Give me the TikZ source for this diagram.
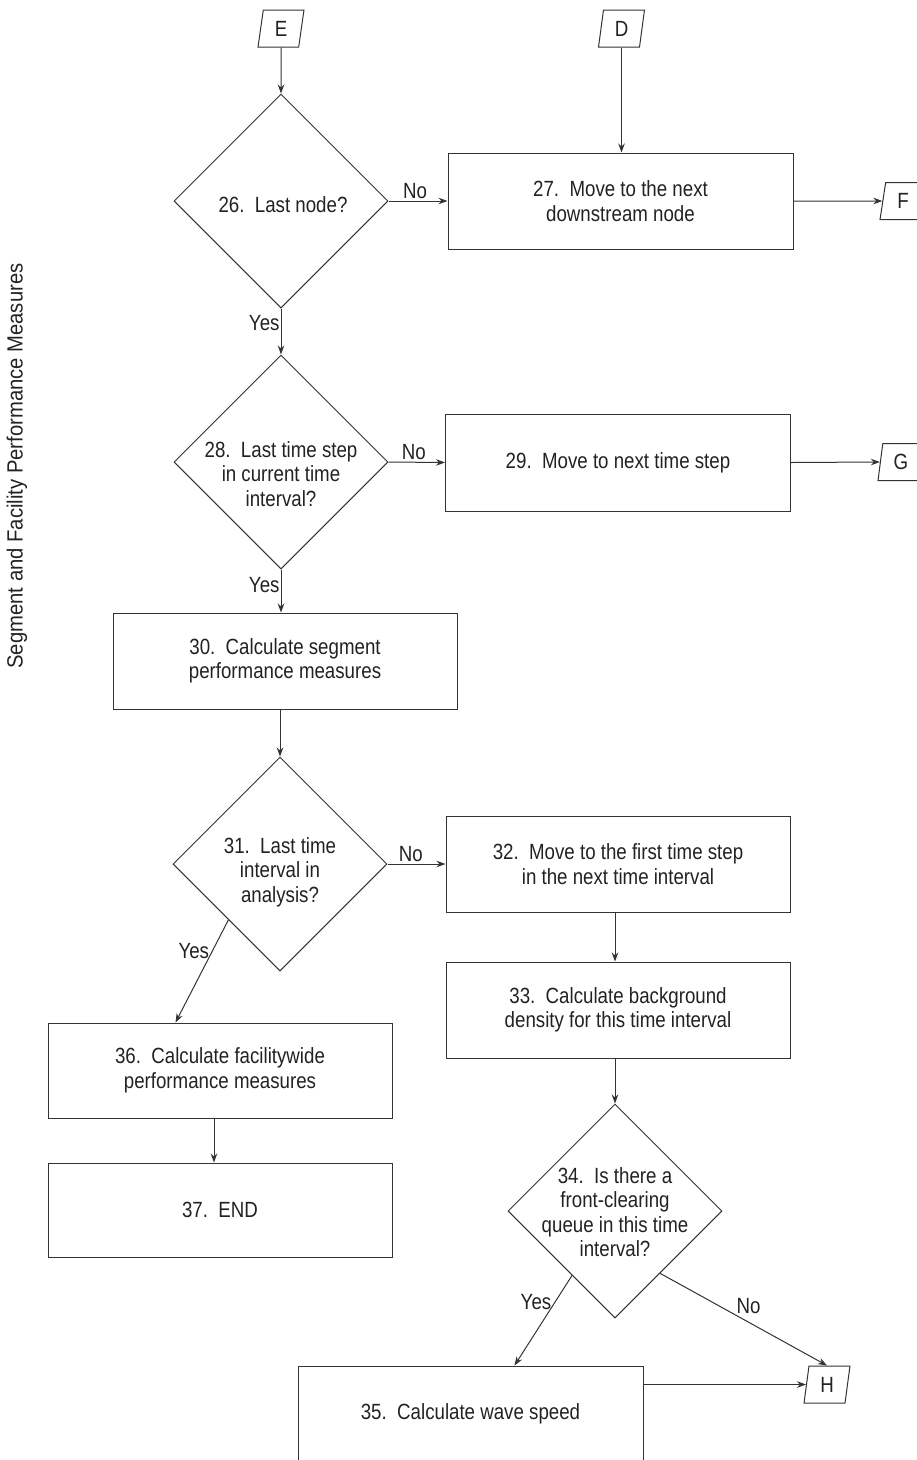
\documentclass[tikz,border=0pt]{standalone}
\usepackage{fontspec}
\setmainfont{Liberation Sans}[FakeStretch=0.85]
\newfontfamily\sidefont{Liberation Sans}[FakeStretch=0.92]
\usetikzlibrary{shapes.geometric,arrows.meta,calc}
\definecolor{ln}{HTML}{333333}
\definecolor{tx}{HTML}{222222}
\begin{document}
\begin{tikzpicture}[x=1pt,y=-1pt,
  every node/.style={text=tx,font=\fontsize{22}{24.5}\selectfont},
  proc/.style={draw=ln,line width=1pt,rectangle,inner sep=0pt,align=center},
  dia/.style={draw=ln,line width=1pt,diamond,aspect=1,inner sep=0pt,minimum width=214pt,minimum height=214pt},
  dtext/.style={align=center,inner sep=0pt},
  conn/.style={draw=ln,line width=1pt,trapezium,trapezium left angle=83,trapezium right angle=97,trapezium stretches=true,minimum width=46pt,minimum height=37pt,inner sep=0pt},
  arr/.style={draw=ln,line width=1pt,-{Stealth[length=9pt,width=6.5pt]}},
  lbl/.style={inner sep=2pt}
]
\useasboundingbox (0,0) rectangle (917,1460);
\clip (0,0) rectangle (917,1460);

% connectors (off-page)
\node[conn] (E) at (281,28.5) {E};
\node[conn] (D) at (621.5,28.5) {D};
\node[conn] (F) at (903,201) {F};
\node[conn] (G) at (901,462) {G};
\node[conn] (H) at (827,1384.5) {H};

% decisions
\node[dia] (d26) at (281,201) {};
\node[dtext] (t26) at (283,205) {26.\ \ Last node?};
\node[dia] (d28) at (281,462) {};
\node[dtext] (t28) at (281,474) {28.\ \ Last time step\\in current time\\interval?};
\node[dia] (d31) at (280,864) {};
\node[dtext] (t31) at (280,872) {31.\ \ Last time\\interval in\\analysis?};
\node[dia] (d34) at (615,1211) {};
\node[dtext] (t34) at (615,1212) {34.\ \ Is there a\\front-clearing\\queue in this time\\interval?};

% processes
\node[proc,minimum width=345pt,minimum height=96pt] (b27) at (620.5,201) {27.\ \ Move to the next\\downstream node};
\node[proc,minimum width=345pt,minimum height=97pt] (b29) at (618,462.5) {29.\ \ Move to next time step};
\node[proc,minimum width=344pt,minimum height=96pt] (b30) at (285,661) {30.\ \ Calculate segment\\performance measures};
\node[proc,minimum width=344pt,minimum height=96pt] (b32) at (618,864) {32.\ \ Move to the first time step\\in the next time interval};
\node[proc,minimum width=344pt,minimum height=96pt] (b33) at (618,1010) {33.\ \ Calculate background\\density for this time interval};
\node[proc,minimum width=345pt,minimum height=96pt] (b35) at (470.5,1414) {35.\ \ Calculate wave speed};
\node[proc,minimum width=344pt,minimum height=95pt] (b36) at (220,1070.5) {36.\ \ Calculate facilitywide\\performance measures};
\node[proc,minimum width=344pt,minimum height=94pt] (b37) at (220,1210) {37.\ \ END};

% side title
\node[rotate=90,font=\sidefont\fontsize{22}{24}\selectfont] (side) at (17,466) {Segment and Facility Performance Measures};

% helper coordinates
\coordinate (y31a) at ($(d31.west)!0.52!(d31.south)$);
\coordinate (y31b) at ($(b36.north west)+(128,0)$);
\coordinate (y34a) at ($(d34.west)!0.6!(d34.south)$);
\coordinate (y34b) at ($(b35.north west)+(217,0)$);
\coordinate (n34a) at ($(d34.east)!0.58!(d34.south)$);

% edges
\draw[arr] (E) -- (d26);
\draw[arr] (D) -- (D |- b27.north);
\draw[arr] (d26.east) -- node[lbl,above,pos=0.45] (l26n) {No} (b27.west);
\draw[arr] (b27.east) -- (F.west);
\draw[arr] (d26.south) -- node[lbl,left,pos=0.32,inner sep=1pt] (l26y) {Yes} (d28.north);
\draw[arr] (d28.east) -- node[lbl,above,pos=0.45] (l28n) {No} (b29.west);
\draw[arr] (b29.east) -- (G.west);
\draw[arr] (d28.south) -- node[lbl,left,pos=0.35,inner sep=1pt] (l28y) {Yes} (d28.south |- b30.north);
\draw[arr] (d31.north |- b30.south) -- (d31.north);
\draw[arr] (d31.east) -- node[lbl,above,pos=0.4] (l31n) {No} (b32.west);
\draw[arr] (y31a) -- node[lbl,left,pos=0.3,inner sep=3pt] (l31y) {Yes} (y31b);
\draw[arr] (d34.north |- b32.south) -- (d34.north |- b33.north);
\draw[arr] (d34.north |- b33.south) -- (d34.north);
\draw[arr] (y34a) -- node[lbl,left,pos=0.3,inner sep=3pt] (l34y) {Yes} (y34b);
\draw[arr] (n34a) -- node[lbl,above right,pos=0.45,inner sep=1pt] (l34n) {No} (H.north);
\draw[arr] (H.west -| b35.east) -- (H.west);
\draw[arr] ([xshift=-6pt]b36.south) -- ([xshift=-6pt]b37.north);
\end{tikzpicture}
\end{document}
